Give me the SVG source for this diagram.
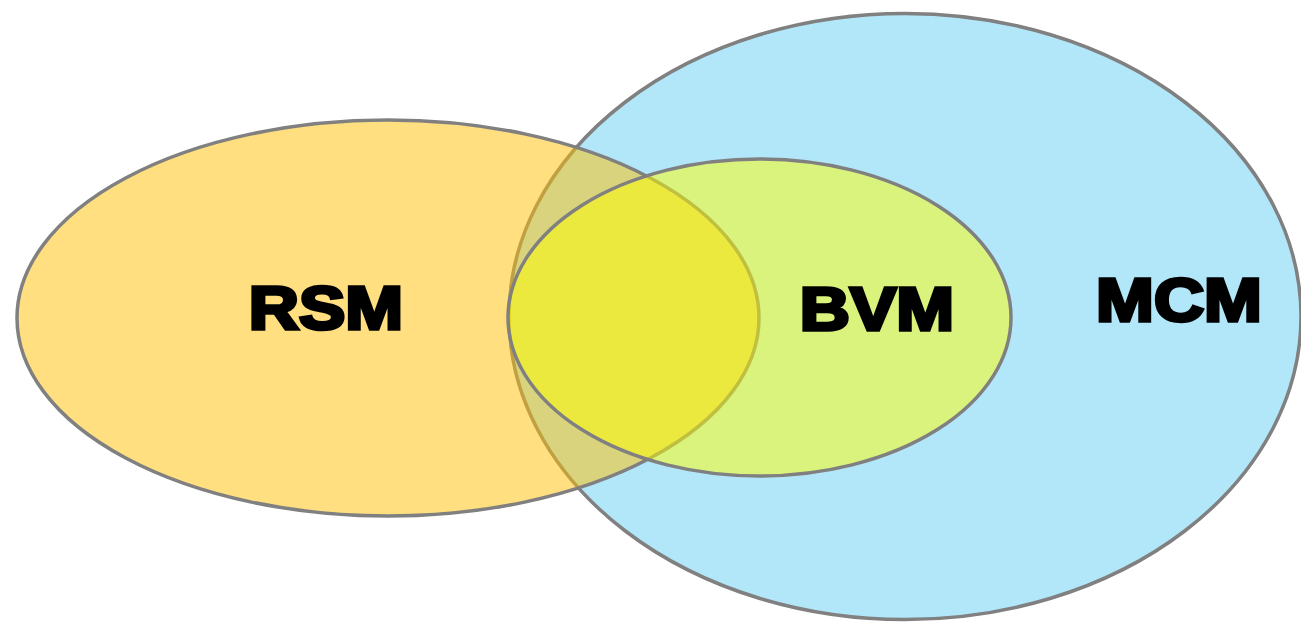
<svg xmlns="http://www.w3.org/2000/svg" width="1301" height="622" viewBox="0 0 1301 622">
  <style>
    .set { stroke: #808080; stroke-width: 3.5; }
    .label { font-family: "Liberation Sans", Arial, sans-serif; font-weight: bold; font-size: 62px; fill: #000; stroke: #000; stroke-width: 3.6; stroke-linejoin: miter; text-anchor: middle; }
  </style>
  <rect width="1301" height="622" fill="#fff"/>
  <g id="MCM">
    <ellipse class="set" cx="905" cy="316.5" rx="396" ry="303" fill="#00B0F0" fill-opacity="0.3"/>
  </g>
  <g id="RSM">
    <ellipse class="set" cx="388" cy="318" rx="371" ry="198" fill="#FFC000" fill-opacity="0.5"/>
  </g>
  <g id="BVM">
    <ellipse class="set" cx="759.5" cy="317.5" rx="251.5" ry="158.5" fill="#FFFF00" fill-opacity="0.5"/>
  </g>
  <g id="labels">
    <text class="label" transform="translate(326,328.5) scale(1.12,1)">RSM</text>
    <text class="label" transform="translate(877,329.5) scale(1.12,1)">BVM</text>
    <text class="label" transform="translate(1179,320.5) scale(1.12,1)">MCM</text>
  </g>
</svg>
